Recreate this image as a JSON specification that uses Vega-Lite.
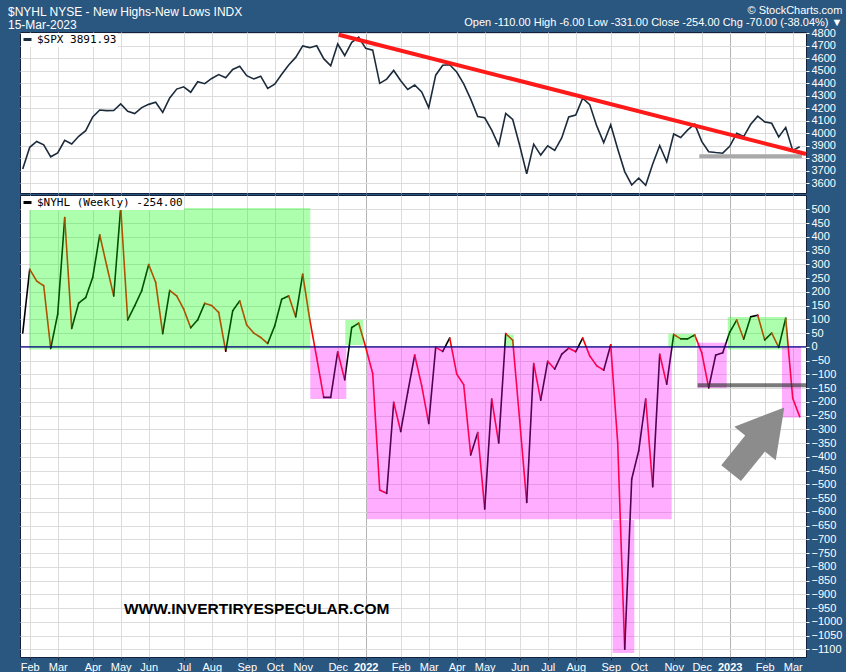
{
  "$schema": "https://vega.github.io/schema/vega-lite/v6.json",
  "background": "#2a5780",
  "padding": {"left": 7, "top": 4, "right": 10, "bottom": 5},
  "title": {
    "text": ["© StockCharts.com", "Open -110.00  High -6.00  Low -331.00  Close -254.00  Chg -70.00 (-38.04%) ▼"],
    "anchor": "end", "frame": "bounds", "offset": 0, "dy": 22,
    "fontSize": 11, "lineHeight": 12, "color": "white", "font": "Liberation Sans", "fontWeight": "normal"
  },
  "spacing": 0,
  "resolve": {"scale": {"color": "independent", "strokeDash": "independent"}, "legend": {"color": "independent", "strokeDash": "independent"}},
  "config": {
    "view": {"fill": "white", "stroke": "#13213f", "strokeWidth": 1},
    "axis": {"labelFont": "Liberation Sans", "labelFontSize": 11, "labelColor": "white", "gridColor": "#dcdcdc", "labelOverlap": false, "labelFlush": false, "domain": false},
    "legend": {"orient": "top-left", "offset": 1, "padding": 1, "fillColor": "white", "labelFont": "DejaVu Sans Mono", "labelFontSize": 11, "labelColor": "black", "symbolType": "stroke", "symbolSize": 64, "symbolStrokeWidth": 3, "labelOffset": 4, "title": null}
  },
  "datasets": {
    "weekly": [
      {"date": "2021-01-25", "spx": 3714, "nyhl": 50},
      {"date": "2021-02-01", "spx": 3887, "nyhl": 282},
      {"date": "2021-02-08", "spx": 3934, "nyhl": 239},
      {"date": "2021-02-15", "spx": 3907, "nyhl": 222},
      {"date": "2021-02-22", "spx": 3811, "nyhl": -6},
      {"date": "2021-03-01", "spx": 3842, "nyhl": 119},
      {"date": "2021-03-08", "spx": 3943, "nyhl": 470},
      {"date": "2021-03-15", "spx": 3913, "nyhl": 67},
      {"date": "2021-03-22", "spx": 3975, "nyhl": 159},
      {"date": "2021-03-29", "spx": 4020, "nyhl": 179},
      {"date": "2021-04-05", "spx": 4129, "nyhl": 252},
      {"date": "2021-04-12", "spx": 4185, "nyhl": 407},
      {"date": "2021-04-19", "spx": 4180, "nyhl": 295},
      {"date": "2021-04-26", "spx": 4181, "nyhl": 185},
      {"date": "2021-05-03", "spx": 4233, "nyhl": 507},
      {"date": "2021-05-10", "spx": 4174, "nyhl": 98},
      {"date": "2021-05-17", "spx": 4156, "nyhl": 149},
      {"date": "2021-05-24", "spx": 4204, "nyhl": 204},
      {"date": "2021-05-31", "spx": 4230, "nyhl": 299},
      {"date": "2021-06-07", "spx": 4247, "nyhl": 234},
      {"date": "2021-06-14", "spx": 4166, "nyhl": 48},
      {"date": "2021-06-21", "spx": 4281, "nyhl": 205},
      {"date": "2021-06-28", "spx": 4352, "nyhl": 185},
      {"date": "2021-07-05", "spx": 4370, "nyhl": 137},
      {"date": "2021-07-12", "spx": 4327, "nyhl": 69},
      {"date": "2021-07-19", "spx": 4411, "nyhl": 98},
      {"date": "2021-07-26", "spx": 4395, "nyhl": 158},
      {"date": "2021-08-02", "spx": 4437, "nyhl": 150},
      {"date": "2021-08-09", "spx": 4468, "nyhl": 125},
      {"date": "2021-08-16", "spx": 4442, "nyhl": -16},
      {"date": "2021-08-23", "spx": 4509, "nyhl": 131},
      {"date": "2021-08-30", "spx": 4535, "nyhl": 167},
      {"date": "2021-09-06", "spx": 4459, "nyhl": 79},
      {"date": "2021-09-13", "spx": 4433, "nyhl": 50},
      {"date": "2021-09-20", "spx": 4455, "nyhl": 34},
      {"date": "2021-09-27", "spx": 4357, "nyhl": 12},
      {"date": "2021-10-04", "spx": 4391, "nyhl": 76},
      {"date": "2021-10-11", "spx": 4471, "nyhl": 173},
      {"date": "2021-10-18", "spx": 4545, "nyhl": 185},
      {"date": "2021-10-25", "spx": 4605, "nyhl": 109},
      {"date": "2021-11-01", "spx": 4697, "nyhl": 264},
      {"date": "2021-11-08", "spx": 4683, "nyhl": 100},
      {"date": "2021-11-15", "spx": 4698, "nyhl": -40},
      {"date": "2021-11-22", "spx": 4595, "nyhl": -184},
      {"date": "2021-11-29", "spx": 4538, "nyhl": -184},
      {"date": "2021-12-06", "spx": 4712, "nyhl": -18},
      {"date": "2021-12-13", "spx": 4620, "nyhl": -120},
      {"date": "2021-12-20", "spx": 4725, "nyhl": 70},
      {"date": "2021-12-27", "spx": 4766, "nyhl": 86},
      {"date": "2022-01-03", "spx": 4677, "nyhl": -2},
      {"date": "2022-01-10", "spx": 4663, "nyhl": -97},
      {"date": "2022-01-17", "spx": 4398, "nyhl": -521},
      {"date": "2022-01-24", "spx": 4432, "nyhl": -533},
      {"date": "2022-01-31", "spx": 4501, "nyhl": -202},
      {"date": "2022-02-07", "spx": 4419, "nyhl": -308},
      {"date": "2022-02-14", "spx": 4349, "nyhl": -166},
      {"date": "2022-02-21", "spx": 4385, "nyhl": -30},
      {"date": "2022-02-28", "spx": 4329, "nyhl": -142},
      {"date": "2022-03-07", "spx": 4204, "nyhl": -279},
      {"date": "2022-03-14", "spx": 4463, "nyhl": -2},
      {"date": "2022-03-21", "spx": 4543, "nyhl": -17},
      {"date": "2022-03-28", "spx": 4546, "nyhl": 32},
      {"date": "2022-04-04", "spx": 4488, "nyhl": -99},
      {"date": "2022-04-11", "spx": 4393, "nyhl": -138},
      {"date": "2022-04-18", "spx": 4272, "nyhl": -393},
      {"date": "2022-04-25", "spx": 4132, "nyhl": -312},
      {"date": "2022-05-02", "spx": 4123, "nyhl": -590},
      {"date": "2022-05-09", "spx": 4024, "nyhl": -190},
      {"date": "2022-05-16", "spx": 3901, "nyhl": -350},
      {"date": "2022-05-23", "spx": 4158, "nyhl": 48},
      {"date": "2022-05-30", "spx": 4109, "nyhl": 24},
      {"date": "2022-06-06", "spx": 3901, "nyhl": -269},
      {"date": "2022-06-13", "spx": 3675, "nyhl": -566},
      {"date": "2022-06-20", "spx": 3912, "nyhl": -61},
      {"date": "2022-06-27", "spx": 3825, "nyhl": -194},
      {"date": "2022-07-04", "spx": 3899, "nyhl": -53},
      {"date": "2022-07-11", "spx": 3863, "nyhl": -81},
      {"date": "2022-07-18", "spx": 3962, "nyhl": -27},
      {"date": "2022-07-25", "spx": 4130, "nyhl": -5},
      {"date": "2022-08-01", "spx": 4145, "nyhl": -18},
      {"date": "2022-08-08", "spx": 4280, "nyhl": 32},
      {"date": "2022-08-15", "spx": 4228, "nyhl": -33},
      {"date": "2022-08-22", "spx": 4058, "nyhl": -69},
      {"date": "2022-08-29", "spx": 3924, "nyhl": -85},
      {"date": "2022-09-05", "spx": 4067, "nyhl": 7},
      {"date": "2022-09-12", "spx": 3873, "nyhl": -350},
      {"date": "2022-09-19", "spx": 3693, "nyhl": -1100},
      {"date": "2022-09-26", "spx": 3586, "nyhl": -481},
      {"date": "2022-10-03", "spx": 3640, "nyhl": -378},
      {"date": "2022-10-10", "spx": 3583, "nyhl": -190},
      {"date": "2022-10-17", "spx": 3753, "nyhl": -509},
      {"date": "2022-10-24", "spx": 3901, "nyhl": -27},
      {"date": "2022-10-31", "spx": 3771, "nyhl": -136},
      {"date": "2022-11-07", "spx": 3993, "nyhl": 45},
      {"date": "2022-11-14", "spx": 3965, "nyhl": 29},
      {"date": "2022-11-21", "spx": 4026, "nyhl": 29},
      {"date": "2022-11-28", "spx": 4072, "nyhl": 43},
      {"date": "2022-12-05", "spx": 3934, "nyhl": -21},
      {"date": "2022-12-12", "spx": 3852, "nyhl": -149},
      {"date": "2022-12-19", "spx": 3845, "nyhl": -30},
      {"date": "2022-12-26", "spx": 3840, "nyhl": -22},
      {"date": "2023-01-02", "spx": 3895, "nyhl": 53},
      {"date": "2023-01-09", "spx": 3999, "nyhl": 97},
      {"date": "2023-01-16", "spx": 3973, "nyhl": 28},
      {"date": "2023-01-23", "spx": 4071, "nyhl": 109},
      {"date": "2023-01-30", "spx": 4136, "nyhl": 115},
      {"date": "2023-02-06", "spx": 4090, "nyhl": 25},
      {"date": "2023-02-13", "spx": 4079, "nyhl": 50},
      {"date": "2023-02-20", "spx": 3970, "nyhl": -2},
      {"date": "2023-02-27", "spx": 4046, "nyhl": 104},
      {"date": "2023-03-06", "spx": 3862, "nyhl": -187},
      {"date": "2023-03-13", "spx": 3892, "nyhl": -254}
    ],
    "zones": [
      {"start": "2021-01-31T07:00:00Z", "end": "2021-11-08T14:00:00Z", "low": -10, "high": 505, "zone": "up"},
      {"start": "2021-11-08T14:00:00Z", "end": "2021-12-14T14:00:00Z", "low": -190, "high": 0, "zone": "down"},
      {"start": "2021-12-13T14:00:00Z", "end": "2021-12-31T14:00:00Z", "low": 6, "high": 98, "zone": "up"},
      {"start": "2022-01-04T07:00:00Z", "end": "2022-11-05T00:00:00Z", "low": -627, "high": 0, "zone": "down"},
      {"start": "2022-05-22T19:00:00Z", "end": "2022-05-31T00:00:00Z", "low": 0, "high": 45, "zone": "up"},
      {"start": "2022-09-07T00:00:00Z", "end": "2022-09-28T14:00:00Z", "low": -1113, "high": -630, "zone": "down"},
      {"start": "2022-11-01T14:00:00Z", "end": "2022-11-29T07:00:00Z", "low": 0, "high": 47, "zone": "up"},
      {"start": "2022-11-30T07:00:00Z", "end": "2022-12-30T00:00:00Z", "low": -150, "high": 15, "zone": "down"},
      {"start": "2022-12-31T00:00:00Z", "end": "2023-02-28T07:00:00Z", "low": -10, "high": 108, "zone": "up"},
      {"start": "2023-02-23T07:00:00Z", "end": "2023-03-14T07:00:00Z", "low": -257, "high": 0, "zone": "down"}
    ],
    "trend": [{"start": "2021-12-07T00:00:00Z", "end": "2023-03-19T07:00:00Z", "from": 4786, "to": 3834}],
    "spxLevel": [{"start": "2022-12-02T14:00:00Z", "end": "2023-03-15T07:00:00Z", "level": 3816}],
    "nyhlLevel": [{"start": "2022-12-01T00:00:00Z", "end": "2023-03-19T07:00:00Z", "level": -140}],
    "arrow": [{"date": "2023-01-30T00:00:00Z", "value": -340}],
    "watermark": [{"date": "2021-09-16T00:00:00Z", "value": -953, "label": "WWW.INVERTIRYESPECULAR.COM"}]
  },
  "vconcat": [
    {
      "width": 786,
      "height": 161,
      "title": {
        "text": ["$NYHL NYSE - New Highs-New Lows INDX", "15-Mar-2023"],
        "anchor": "start", "frame": "group", "dx": -12, "offset": -5,
        "fontSize": 12, "lineHeight": 13, "color": "white", "font": "Liberation Sans", "fontWeight": "normal"
      },
      "layer": [
        {
          "data": {"name": "spxLevel"},
          "mark": {"type": "rule", "strokeWidth": 4, "color": "#a9a9a9"},
          "encoding": {
            "x": {"field": "start", "type": "temporal", "title": null,
              "scale": {"type": "utc", "domain": [{"year": 2021, "month": 1, "date": 22, "hours": 7, "utc": true}, {"year": 2023, "month": 3, "date": 19, "hours": 7, "utc": true}]},
              "axis": {"orient": "bottom", "labels": false, "ticks": false, "domain": false, "grid": true, "labelPadding": 0, "minExtent": 0, "maxExtent": 0, "offset": 0, "labelOverlap": false, "tickCount": 500,
                "gridColor": {"condition": {"test": "utcmonth(datum.value + 86400000) === 0", "value": "#b4b4b4"}, "value": "#dcdcdc"},
                "values": [
                  {"year": 2021, "month": 2, "date": 1, "utc": true}, {"year": 2021, "month": 3, "date": 1, "utc": true}, {"year": 2021, "month": 4, "date": 5, "utc": true}, {"year": 2021, "month": 5, "date": 3, "utc": true}, {"year": 2021, "month": 5, "date": 31, "utc": true}, {"year": 2021, "month": 7, "date": 5, "utc": true}, {"year": 2021, "month": 8, "date": 2, "utc": true}, {"year": 2021, "month": 9, "date": 6, "utc": true}, {"year": 2021, "month": 10, "date": 4, "utc": true}, {"year": 2021, "month": 11, "date": 1, "utc": true}, {"year": 2021, "month": 12, "date": 6, "utc": true},
                  {"year": 2022, "month": 1, "date": 3, "utc": true}, {"year": 2022, "month": 2, "date": 7, "utc": true}, {"year": 2022, "month": 3, "date": 7, "utc": true}, {"year": 2022, "month": 4, "date": 4, "utc": true}, {"year": 2022, "month": 5, "date": 2, "utc": true}, {"year": 2022, "month": 6, "date": 6, "utc": true}, {"year": 2022, "month": 7, "date": 4, "utc": true}, {"year": 2022, "month": 8, "date": 1, "utc": true}, {"year": 2022, "month": 9, "date": 5, "utc": true}, {"year": 2022, "month": 10, "date": 3, "utc": true}, {"year": 2022, "month": 11, "date": 7, "utc": true}, {"year": 2022, "month": 12, "date": 5, "utc": true},
                  {"year": 2023, "month": 1, "date": 2, "utc": true}, {"year": 2023, "month": 2, "date": 6, "utc": true}, {"year": 2023, "month": 3, "date": 6, "utc": true}
                ]}},
            "x2": {"field": "end"},
            "y": {"field": "level", "type": "quantitative", "title": null,
              "scale": {"domain": [3522, 4808], "nice": false, "zero": false},
              "axis": {"orient": "right", "values": [3600, 3700, 3800, 3900, 4000, 4100, 4200, 4300, 4400, 4500, 4600, 4700, 4800], "format": "d", "grid": true, "tickColor": "white", "tickSize": 3, "labelPadding": 2, "labelOverlap": false, "tickCount": 500}}
          }
        },
        {
          "data": {"name": "weekly"},
          "mark": {"type": "line", "strokeWidth": 1.6},
          "encoding": {
            "x": {"field": "date", "type": "temporal", "title": null,
              "scale": {"type": "utc", "domain": [{"year": 2021, "month": 1, "date": 22, "hours": 7, "utc": true}, {"year": 2023, "month": 3, "date": 19, "hours": 7, "utc": true}]}},
            "y": {"field": "spx", "type": "quantitative", "title": null, "scale": {"domain": [3522, 4808], "nice": false, "zero": false}},
            "color": {"datum": "$SPX 3891.93", "type": "nominal", "scale": {"domain": ["$SPX 3891.93"], "range": ["#1c2b3c"]}, "legend": {}}
          }
        },
        {
          "data": {"name": "trend"},
          "mark": {"type": "rule", "strokeWidth": 4, "color": "#ff1a1a"},
          "encoding": {
            "x": {"field": "start", "type": "temporal", "title": null,
              "scale": {"type": "utc", "domain": [{"year": 2021, "month": 1, "date": 22, "hours": 7, "utc": true}, {"year": 2023, "month": 3, "date": 19, "hours": 7, "utc": true}]}},
            "x2": {"field": "end"},
            "y": {"field": "from", "type": "quantitative", "title": null, "scale": {"domain": [3522, 4808], "nice": false, "zero": false}},
            "y2": {"field": "to"}
          }
        }
      ]
    },
    {
      "width": 786,
      "height": 462,
      "layer": [
        {
          "data": {"name": "weekly"},
          "transform": [
            {"window": [{"op": "lead", "field": "nyhl", "as": "next"}, {"op": "lead", "field": "date", "as": "nextDate"}], "sort": [{"field": "date", "order": "ascending"}]},
            {"filter": "datum.next != null"}
          ],
          "mark": {"type": "rule", "strokeWidth": 1.6, "strokeCap": "round"},
          "encoding": {
            "x": {"field": "date", "type": "temporal", "title": null,
              "scale": {"type": "utc", "domain": [{"year": 2021, "month": 1, "date": 22, "hours": 7, "utc": true}, {"year": 2023, "month": 3, "date": 19, "hours": 7, "utc": true}]},
              "axis": {"orient": "bottom", "grid": true, "ticks": true, "tickSize": 3, "tickColor": "#13213f", "labelPadding": 1, "labelOverlap": false, "tickCount": 500,
                "gridColor": {"condition": {"test": "utcmonth(datum.value + 86400000) === 0", "value": "#b4b4b4"}, "value": "#dcdcdc"},
                "labelFontWeight": {"condition": {"test": "utcmonth(datum.value + 86400000) === 0", "value": "bold"}, "value": "normal"},
                "labelExpr": "utcmonth(datum.value + 86400000) === 0 ? utcFormat(datum.value + 86400000, '%Y') : utcFormat(datum.value + 86400000, '%b')",
                "values": [
                  {"year": 2021, "month": 2, "date": 1, "utc": true}, {"year": 2021, "month": 3, "date": 1, "utc": true}, {"year": 2021, "month": 4, "date": 5, "utc": true}, {"year": 2021, "month": 5, "date": 3, "utc": true}, {"year": 2021, "month": 5, "date": 31, "utc": true}, {"year": 2021, "month": 7, "date": 5, "utc": true}, {"year": 2021, "month": 8, "date": 2, "utc": true}, {"year": 2021, "month": 9, "date": 6, "utc": true}, {"year": 2021, "month": 10, "date": 4, "utc": true}, {"year": 2021, "month": 11, "date": 1, "utc": true}, {"year": 2021, "month": 12, "date": 6, "utc": true},
                  {"year": 2022, "month": 1, "date": 3, "utc": true}, {"year": 2022, "month": 2, "date": 7, "utc": true}, {"year": 2022, "month": 3, "date": 7, "utc": true}, {"year": 2022, "month": 4, "date": 4, "utc": true}, {"year": 2022, "month": 5, "date": 2, "utc": true}, {"year": 2022, "month": 6, "date": 6, "utc": true}, {"year": 2022, "month": 7, "date": 4, "utc": true}, {"year": 2022, "month": 8, "date": 1, "utc": true}, {"year": 2022, "month": 9, "date": 5, "utc": true}, {"year": 2022, "month": 10, "date": 3, "utc": true}, {"year": 2022, "month": 11, "date": 7, "utc": true}, {"year": 2022, "month": 12, "date": 5, "utc": true},
                  {"year": 2023, "month": 1, "date": 2, "utc": true}, {"year": 2023, "month": 2, "date": 6, "utc": true}, {"year": 2023, "month": 3, "date": 6, "utc": true}
                ]}},
            "x2": {"field": "nextDate"},
            "y": {"field": "nyhl", "type": "quantitative", "title": null,
              "scale": {"domain": [-1128, 552], "nice": false, "zero": false},
              "axis": {"orient": "right", "values": [500, 450, 400, 350, 300, 250, 200, 150, 100, 50, 0, -50, -100, -150, -200, -250, -300, -350, -400, -450, -500, -550, -600, -650, -700, -750, -800, -850, -900, -950, -1000, -1050, -1100], "format": "d", "grid": true, "tickColor": "white", "tickSize": 3, "labelPadding": 2, "labelOverlap": false, "tickCount": 500}},
            "y2": {"field": "next"},
            "color": {"condition": {"test": "datum.next < datum.nyhl", "value": "#ff0000"}, "value": "#000000"},
            "strokeDash": {"datum": "$NYHL (Weekly) -254.00", "type": "nominal", "scale": {"domain": ["$NYHL (Weekly) -254.00"], "range": [[1, 0]]}, "legend": {"symbolStrokeColor": "black"}}
          }
        },
        {
          "data": {"name": "zones"},
          "mark": {"type": "rect", "opacity": 0.32},
          "encoding": {
            "x": {"field": "start", "type": "temporal", "title": null,
              "scale": {"type": "utc", "domain": [{"year": 2021, "month": 1, "date": 22, "hours": 7, "utc": true}, {"year": 2023, "month": 3, "date": 19, "hours": 7, "utc": true}]}},
            "x2": {"field": "end"},
            "y": {"field": "low", "type": "quantitative", "title": null, "scale": {"domain": [-1128, 552], "nice": false, "zero": false}},
            "y2": {"field": "high"},
            "color": {"field": "zone", "type": "nominal", "scale": {"domain": ["up", "down"], "range": ["#00ff00", "#ff00ff"]}, "legend": null}
          }
        },
        {
          "data": {"values": [{"zero": 0}]},
          "mark": {"type": "rule", "color": "#000080", "strokeWidth": 1.2},
          "encoding": {
            "y": {"field": "zero", "type": "quantitative", "title": null, "scale": {"domain": [-1128, 552], "nice": false, "zero": false}}
          }
        },
        {
          "data": {"name": "nyhlLevel"},
          "mark": {"type": "rule", "strokeWidth": 4, "color": "#333333", "opacity": 0.65},
          "encoding": {
            "x": {"field": "start", "type": "temporal", "title": null,
              "scale": {"type": "utc", "domain": [{"year": 2021, "month": 1, "date": 22, "hours": 7, "utc": true}, {"year": 2023, "month": 3, "date": 19, "hours": 7, "utc": true}]}},
            "x2": {"field": "end"},
            "y": {"field": "level", "type": "quantitative", "title": null, "scale": {"domain": [-1128, 552], "nice": false, "zero": false}}
          }
        },
        {
          "data": {"name": "arrow"},
          "mark": {"type": "point", "filled": true, "opacity": 1, "color": "#8c8c8c", "size": 7140, "angle": 309,
            "shape": "M -1 -0.3 L -0.1 -0.3 L -0.1 -0.63 L 1 0 L -0.1 0.63 L -0.1 0.3 L -1 0.3 Z"},
          "encoding": {
            "x": {"field": "date", "type": "temporal", "title": null,
              "scale": {"type": "utc", "domain": [{"year": 2021, "month": 1, "date": 22, "hours": 7, "utc": true}, {"year": 2023, "month": 3, "date": 19, "hours": 7, "utc": true}]}},
            "y": {"field": "value", "type": "quantitative", "title": null, "scale": {"domain": [-1128, 552], "nice": false, "zero": false}}
          }
        },
        {
          "data": {"name": "watermark"},
          "mark": {"type": "text", "font": "Liberation Sans", "fontWeight": "bold", "fontSize": 15.5, "color": "black", "align": "center", "baseline": "middle"},
          "encoding": {
            "x": {"field": "date", "type": "temporal", "title": null,
              "scale": {"type": "utc", "domain": [{"year": 2021, "month": 1, "date": 22, "hours": 7, "utc": true}, {"year": 2023, "month": 3, "date": 19, "hours": 7, "utc": true}]}},
            "y": {"field": "value", "type": "quantitative", "title": null, "scale": {"domain": [-1128, 552], "nice": false, "zero": false}},
            "text": {"field": "label"}
          }
        }
      ]
    }
  ]
}
